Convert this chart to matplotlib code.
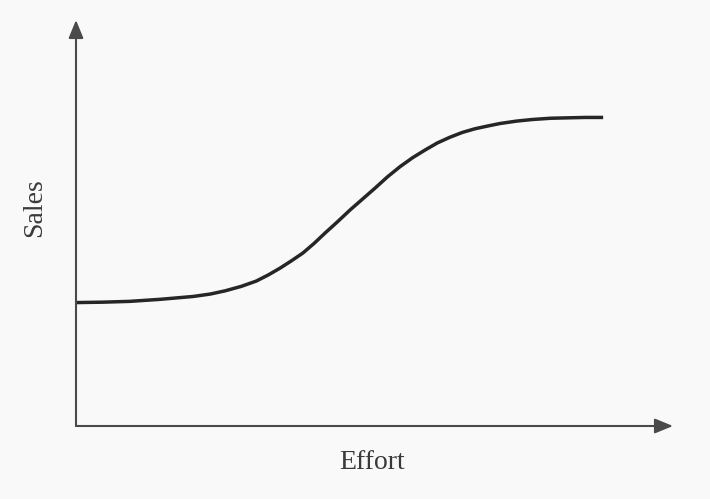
import matplotlib.pyplot as plt

# effort / sales (0-100 scale on each axis)
effort = [0, 4.5, 9.0, 14.1, 19.6, 22.5, 25.0, 27.7, 30.2, 32.2, 34.2, 36.1, 38.0,
          39.9, 41.7, 43.8, 45.9, 48.0, 50.1, 52.2, 54.3, 56.4, 58.5, 60.5, 62.6,
          64.7, 66.8, 69.0, 71.0, 73.8, 76.5, 79.5, 82.4, 85.3, 88.3]
sales = [30.4, 30.5, 30.7, 31.2, 31.9, 32.5, 33.3, 34.4, 35.7, 37.2, 38.9, 40.7, 42.6,
         45.0, 47.5, 50.3, 53.2, 55.9, 58.6, 61.4, 63.9, 66.1, 68.0, 69.7, 71.1,
         72.3, 73.2, 73.9, 74.5, 75.1, 75.5, 75.8, 75.9, 76.0, 76.0]

x_label = "Effort"
y_label = "Sales"

fig = plt.figure(figsize=(7.1, 4.99), dpi=100, facecolor="#f9f9f9")
ax = fig.add_axes([76 / 710, 73 / 499, 597 / 710, 406 / 499])
ax.set_facecolor("none")
ax.set_xlim(0, 100)
ax.set_ylim(0, 100)
for s in ax.spines.values():
    s.set_visible(False)
ax.set_xticks([])
ax.set_yticks([])

axis_col = "#4a4a4a"
arrow = dict(arrowstyle="-|>,head_length=1.1,head_width=0.45", color=axis_col,
             lw=1.5, shrinkA=0, shrinkB=0)
ax.annotate("", xy=(100, 0), xytext=(0, 0), arrowprops=arrow, annotation_clip=False)
ax.annotate("", xy=(0, 100), xytext=(0, 0), arrowprops=arrow, annotation_clip=False)

ax.plot(effort, sales, color="#262626", lw=2.5, solid_capstyle="butt",
        solid_joinstyle="round", clip_on=False)

ax.text(49.6, -9.1, x_label, ha="center", va="center", fontsize=20,
        family="Liberation Serif", color="#3a3a3a", clip_on=False)
ax.text(-6.9, 53.9, y_label, ha="center", va="center", rotation=90, fontsize=20,
        family="Liberation Serif", color="#3a3a3a", clip_on=False)

fig.savefig("out.png", dpi=100, facecolor=fig.get_facecolor())
